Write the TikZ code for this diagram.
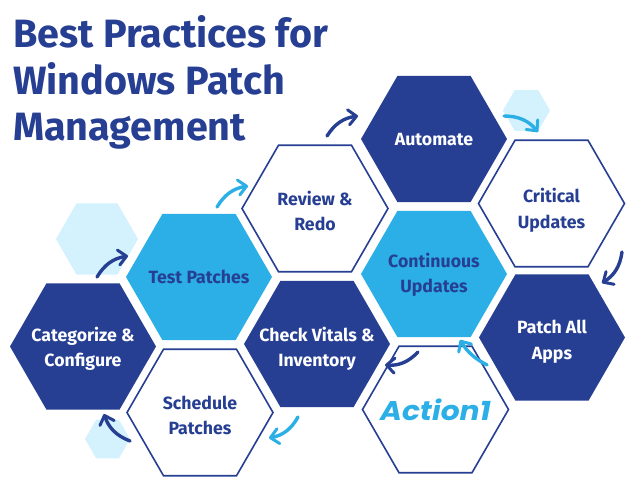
\documentclass[tikz,border=0pt]{standalone}
\usepackage{fontspec}
\setmainfont{Fira Sans}[BoldFont={Fira Sans Bold}]
\usetikzlibrary{shapes.geometric,arrows.meta}
\definecolor{navy}{HTML}{263F93}
\definecolor{sky}{HTML}{2BAFE6}
\definecolor{pale}{HTML}{D3F2FD}
\tikzset{
  hexbase/.style={regular polygon,regular polygon sides=6,minimum size=146pt,inner sep=0pt,outer sep=0pt},
  hexdark/.style={hexbase,fill=navy},
  hexsky/.style={hexbase,fill=sky},
  hexline/.style={hexbase,draw=navy,line width=1.6pt,fill=white},
  hextext/.style={align=center,inner sep=0pt,font=\fontsize{17.7}{25.5}\selectfont\bfseries},
  tlight/.style={hextext,text=white},
  tdark/.style={hextext,text=navy},
  hexpale/.style={regular polygon,regular polygon sides=6,inner sep=0pt,outer sep=0pt,fill=pale},
  arrowbase/.style={line width=3.4pt,line cap=round,-{Straight Barb[length=8pt,width=15pt,line width=3pt,round]}},
  darrow/.style={arrowbase,draw=navy},
  larrow/.style={arrowbase,draw=sky},
  titletext/.style={anchor=base west,text=navy,inner sep=0pt,font=\fontsize{39.5}{46}\selectfont\bfseries}
}
\begin{document}
\begin{tikzpicture}[x=1pt,y=-1pt]
\useasboundingbox (0,0) rectangle (644,487);
\fill[white] (0,0) rectangle (644,487);
\node[titletext] (t1) at (13,48) {Best Practices for};
\node[titletext] (t2) at (13,94) {Windows Patch};
\node[titletext] (t3) at (13,140) {Management};

\node[hexpale,minimum size=47pt] (p1) at (526.5,110.5) {};
\node[hexpale,minimum size=82pt] (p2) at (97,239) {};
\node[hexpale,minimum size=45pt] (p3) at (107.5,439) {};

\node[hexdark] (auto) at (434,139) {};
\node[hexline] (crit) at (551.5,203.5) {};
\node[hexline] (rev) at (315,208.5) {};
\node[hexsky] (cont) at (434,274) {};
\node[hexdark] (patch) at (552,337.5) {};
\node[hexsky] (test) at (199,277) {};
\node[hexdark] (cat) at (83,346.5) {};
\node[hexline] (sched) at (200,412.5) {};
\node[hexdark] (check) at (317,344) {};
\node[hexline] (act) at (435.5,409.5) {};

\node[tlight] (autot) at ([yshift=-1pt]auto.center) {Automate};
\node[tdark] (critt) at ([yshift=-7pt]crit.center) {Critical\\Updates};
\node[tdark] (revt) at ([yshift=-2.5pt]rev.center) {Review \&\\Redo};
\node[tdark] (contt) at ([yshift=-1pt]cont.center) {Continuous\\Updates};
\node[tlight] (patcht) at ([yshift=-4pt]patch.center) {Patch All\\Apps};
\node[tdark] (testt) at (test.center) {Test Patches};
\node[tlight] (catt) at ([yshift=-2.5pt]cat.center) {Categorize \&\\Configure};
\node[tdark] (schedt) at ([yshift=-3pt]sched.center) {Schedule\\Patches};
\node[tlight] (checkt) at ([yshift=-5pt]check.center) {Check Vitals \&\\Inventory};
\node[text=sky,inner sep=0pt] (logo) at (act.center) {\fontspec{Poppins}[BoldItalicFont={Poppins Bold Italic}]\fontsize{27}{27}\selectfont\bfseries\itshape\scalebox{1.1}[1]{Action1}};

\coordinate (a1s) at (327,136); \coordinate (a1e) at (358,116);
\coordinate (a2s) at (504,116); \coordinate (a2e) at (538,132);
\coordinate (a3s) at (622,252); \coordinate (a3e) at (602,283);
\coordinate (a4s) at (487,365); \coordinate (a4e) at (460,340);
\coordinate (a5s) at (418,352); \coordinate (a5e) at (385,365);
\coordinate (a6s) at (298,417); \coordinate (a6e) at (269,438);
\coordinate (a7s) at (130,441); \coordinate (a7e) at (104,414);
\coordinate (a8s) at (97,277); \coordinate (a8e) at (128,256);
\coordinate (a9s) at (217,207); \coordinate (a9e) at (248,186);

\draw[darrow] (a1s) to[bend left=25] (a1e);
\draw[larrow] (a2s) to[bend left=25] (a2e);
\draw[darrow] (a3s) to[bend left=25] (a3e);
\draw[larrow] (a4s) to[bend left=15] (a4e);
\draw[darrow] (a5s) to[bend left=25] (a5e);
\draw[larrow] (a6s) to[bend left=25] (a6e);
\draw[darrow] (a7s) to[bend left=25] (a7e);
\draw[darrow] (a8s) to[bend left=25] (a8e);
\draw[larrow] (a9s) to[bend left=25] (a9e);
\end{tikzpicture}
\end{document}
